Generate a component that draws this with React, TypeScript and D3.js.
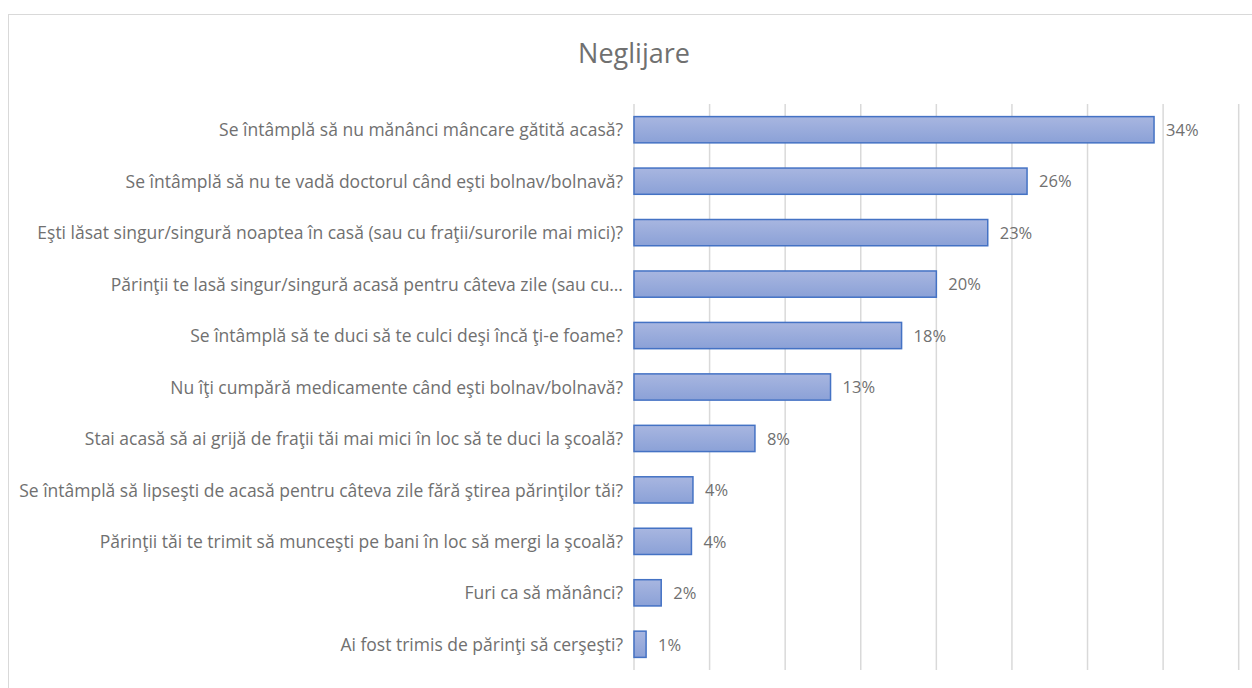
import React from "react";
import * as d3 from "d3";

const title = "Neglijare";

const questions = [
  "Se întâmplă să nu mănânci mâncare gătită acasă?",
  "Se întâmplă să nu te vadă doctorul când eşti bolnav/bolnavă?",
  "Eşti lăsat singur/singură noaptea în casă (sau cu fraţii/surorile mai mici)?",
  "Părinţii te lasă singur/singură acasă pentru câteva zile (sau cu…",
  "Se întâmplă să te duci să te culci deşi încă ţi-e foame?",
  "Nu îţi cumpără medicamente când eşti bolnav/bolnavă?",
  "Stai acasă să ai grijă de fraţii tăi mai mici în loc să te duci la şcoală?",
  "Se întâmplă să lipseşti de acasă pentru câteva zile fără ştirea părinţilor tăi?",
  "Părinţii tăi te trimit să munceşti pe bani în loc să mergi la şcoală?",
  "Furi ca să mănânci?",
  "Ai fost trimis de părinţi să cerşeşti?",
];

// percentages
const values = [34.4, 26, 23.4, 20, 17.7, 13, 8, 3.9, 3.8, 1.8, 0.8];

const gridTicks = [0, 5, 10, 15, 20, 25, 30, 35, 40];

const W = 1252;
const H = 688;
const left = 634;
const right = 1238.7;
const top = 104;
const bottom = 670;
const font = "'Open Sans', 'Noto Sans', sans-serif";
const textColor = "#707070";

const App = () => {
  const x = d3.scaleLinear().domain([0, 40]).range([left, right]);
  const y = d3
    .scaleBand<string>()
    .domain(questions)
    .range([top, bottom])
    .paddingInner(0.49)
    .paddingOuter(0.245);

  return (
    <svg
      width={W}
      height={H}
      style={{ position: "absolute", left: 0, top: 0, background: "#fff" }}
    >
      <defs>
        <linearGradient id="barFill" x1="0" y1="0" x2="0" y2="1">
          <stop offset="0" stopColor="#a8b6e0" />
          <stop offset="1" stopColor="#8ba1d7" />
        </linearGradient>
      </defs>
      <rect x={8.5} y={14.5} width={W + 20} height={H + 20} fill="#fff" stroke="#d9d9d9" />
      <text
        x={634}
        y={63}
        textAnchor="middle"
        fontFamily={font}
        fontSize={27}
        fill={textColor}
      >
        {title}
      </text>
      {gridTicks.map((t) => (
        <line
          key={t}
          x1={x(t)}
          x2={x(t)}
          y1={top}
          y2={bottom}
          stroke="#d9d9d9"
          strokeWidth={1.5}
        />
      ))}
      {questions.map((q, i) => {
        const yy = y(q) as number;
        const bh = y.bandwidth();
        return (
          <g key={q}>
            <rect
              x={x(0)}
              y={yy}
              width={x(values[i]) - x(0)}
              height={bh}
              fill="url(#barFill)"
              stroke="#4472c4"
              strokeWidth={1.5}
            />
            <text
              x={left - 11}
              y={yy + bh / 2}
              dy="0.38em"
              textAnchor="end"
              fontFamily={font}
              fontSize={17.5}
              fill={textColor}
            >
              {q}
            </text>
            <text
              x={x(values[i]) + 12}
              y={yy + bh / 2}
              dy="0.38em"
              fontFamily={font}
              fontSize={16.5}
              fill={textColor}
            >
              {Math.round(values[i]) + "%"}
            </text>
          </g>
        );
      })}
    </svg>
  );
};

export default App;
